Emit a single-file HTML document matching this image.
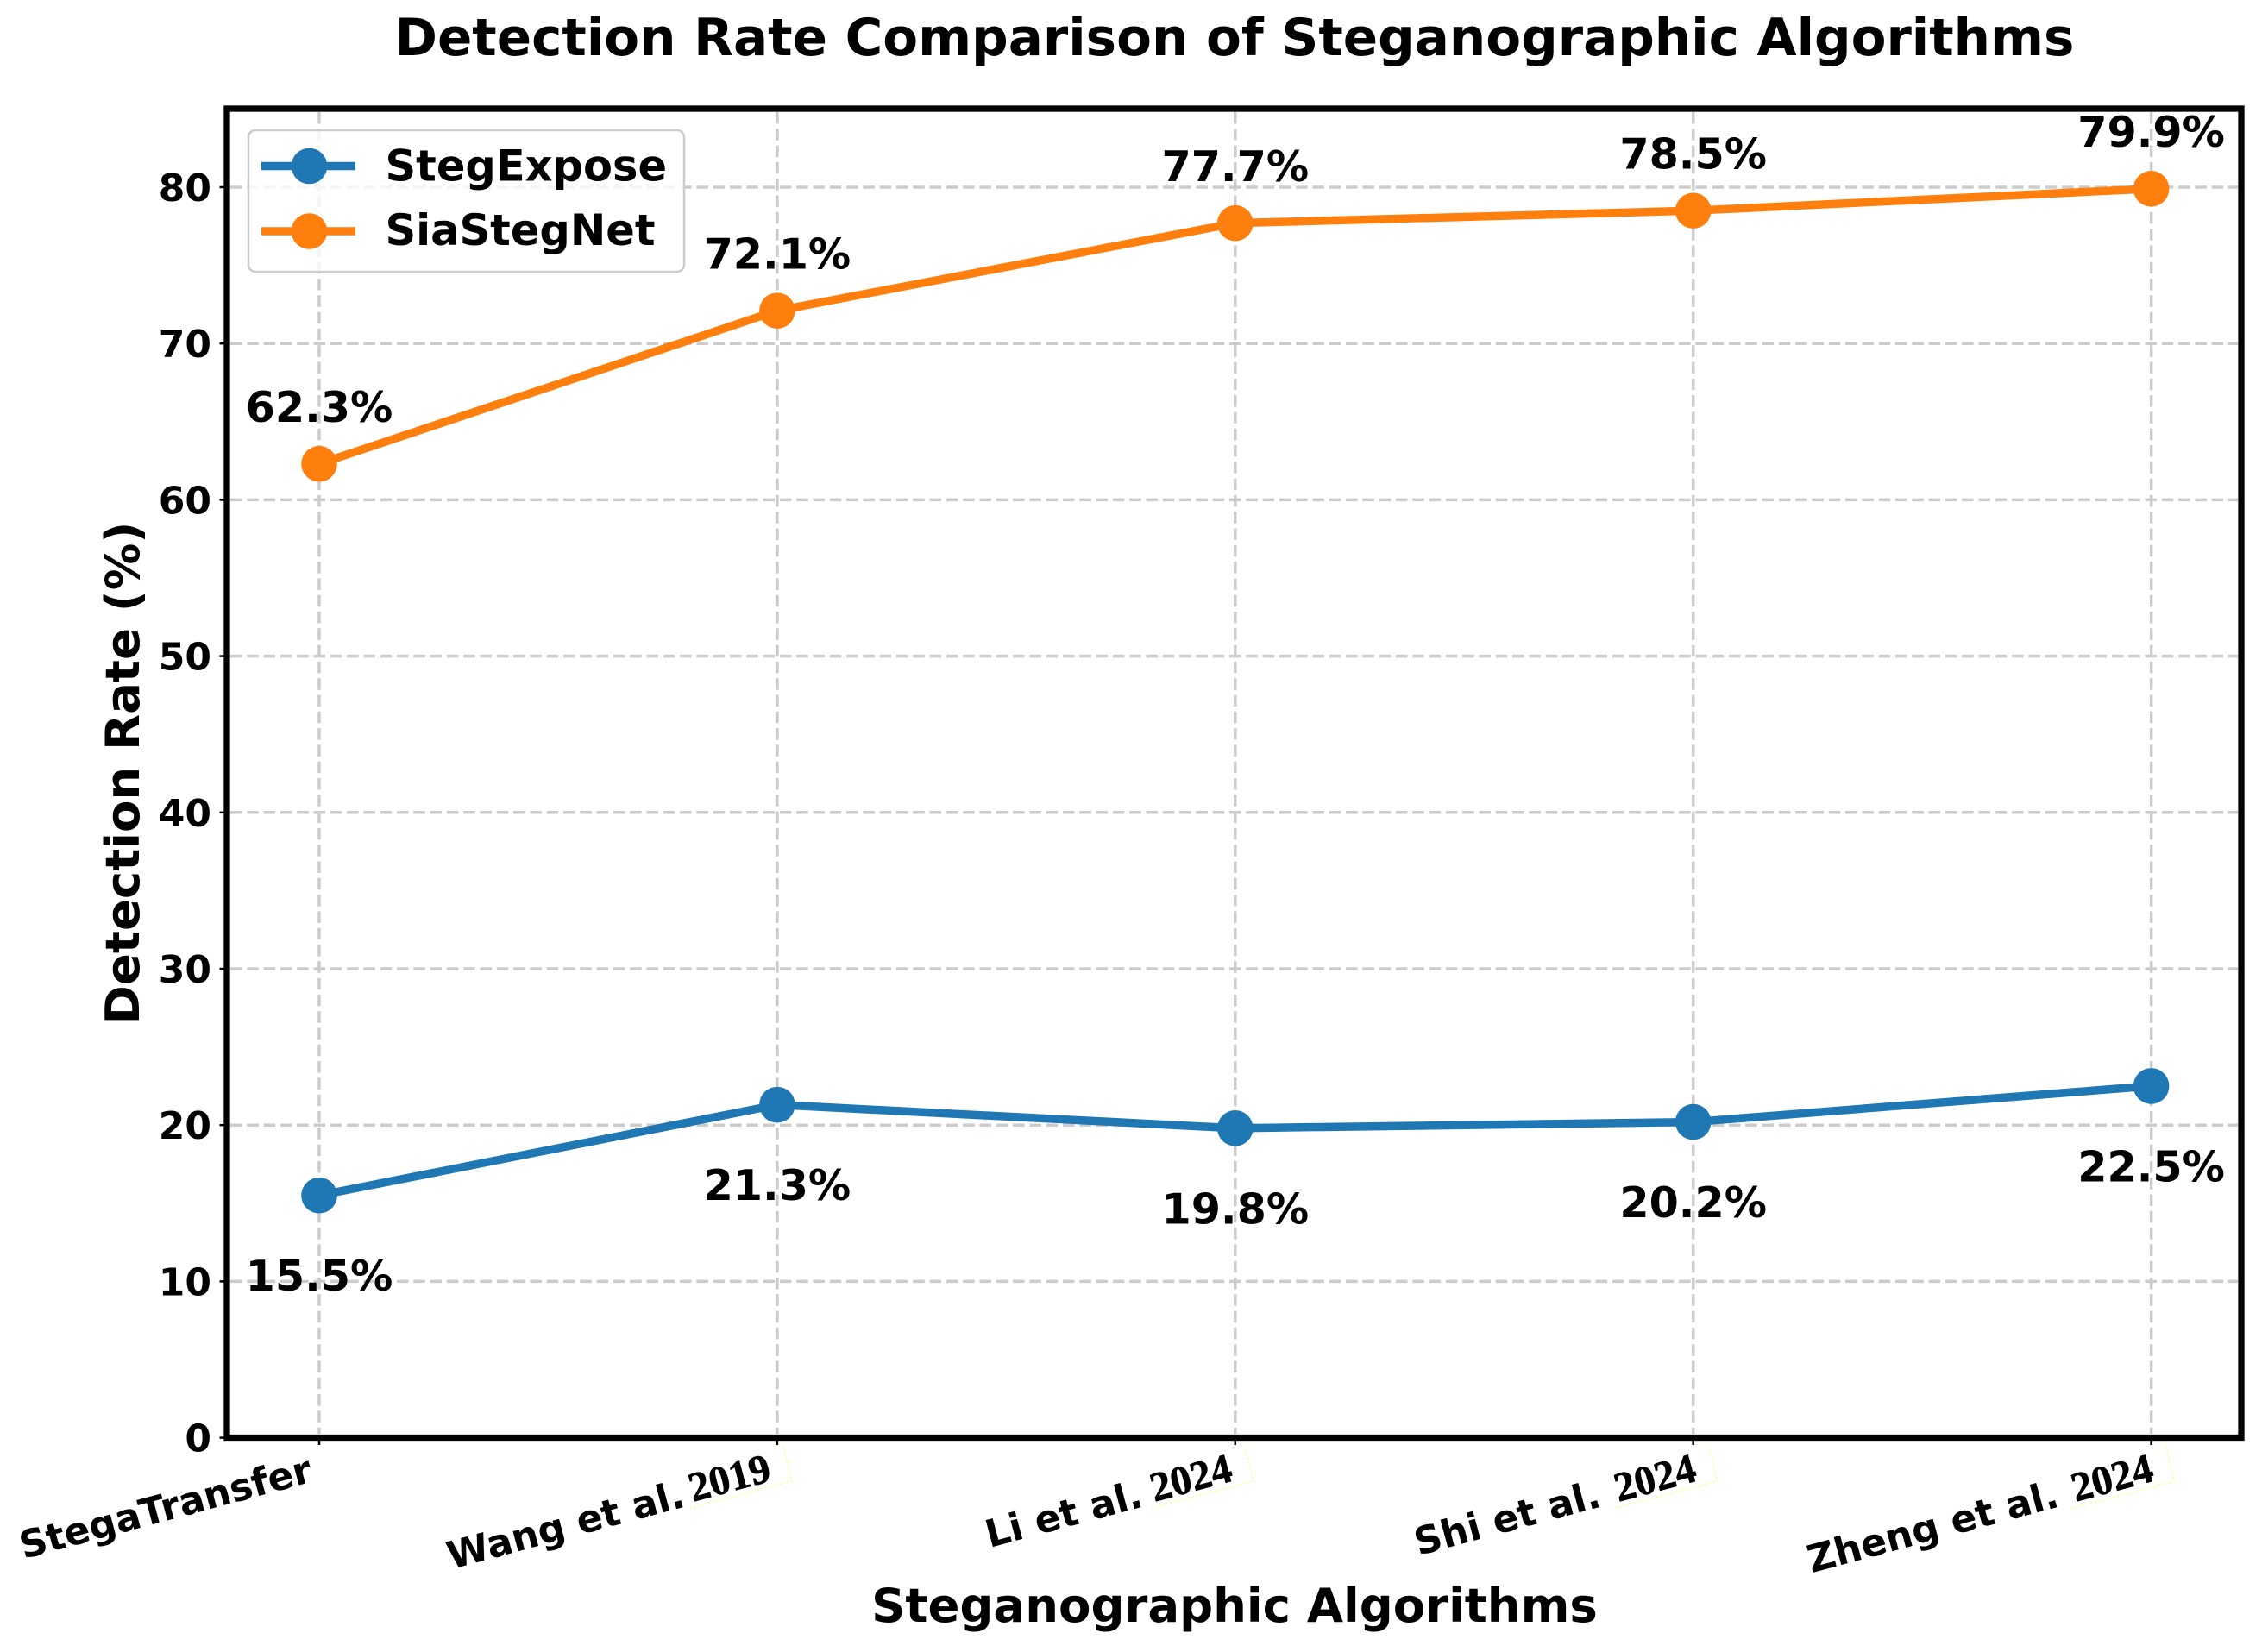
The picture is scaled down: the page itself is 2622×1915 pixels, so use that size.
<!DOCTYPE html>
<html lang="en">
<head>
<meta charset="utf-8">
<title>Detection Rate Comparison of Steganographic Algorithms</title>
<style>
  html, body { margin: 0; padding: 0; background: #fff; }
  svg { display: block; }
  text { font-family: "DejaVu Sans", "Liberation Sans", sans-serif; font-weight: 700; fill: #000; }
  .year { font-family: "Liberation Serif", serif; font-size: 48px; stroke: #000; stroke-width: 0.7px; }
</style>
</head>
<body>
<svg id="chart" xmlns="http://www.w3.org/2000/svg" width="2622" height="1915" viewBox="0 0 2622 1915">
  <rect x="0" y="0" width="2622" height="1915" fill="#fff"/>
  <g id="grid"></g>
  <g id="series"></g>
  <g id="annotations"></g>
  <rect x="263" y="126" width="2335" height="1540.5" fill="none" stroke="#000" stroke-width="7.3"/>
  <g id="ticks"></g>
  <text x="1431" y="64" text-anchor="middle" font-size="59.5">Detection Rate Comparison of Steganographic Algorithms</text>
  <text x="1431" y="1880" text-anchor="middle" font-size="54.5">Steganographic Algorithms</text>
  <text transform="translate(161,896) rotate(-90)" text-anchor="middle" font-size="54.5">Detection Rate (%)</text>
  <g>
    <rect x="288" y="151" width="505" height="164" rx="8" ry="8" fill="#fff" fill-opacity="0.8" stroke="#ccc" stroke-width="2.5"/>
    <line x1="303" y1="192.5" x2="412" y2="192.5" stroke="#1f77b4" stroke-width="9.5"/>
    <circle cx="358.5" cy="192.5" r="20.8" fill="#1f77b4"/>
    <text x="446.5" y="209.5" font-size="49.5">StegExpose</text>
    <line x1="303" y1="268" x2="412" y2="268" stroke="#ff7f0e" stroke-width="9.5"/>
    <circle cx="358.5" cy="268" r="20.8" fill="#ff7f0e"/>
    <text x="446.5" y="284" font-size="49.5">SiaStegNet</text>
  </g>
</svg>
<script>
const categories = ['StegaTransfer', 'Wang et al.', 'Li et al.', 'Shi et al.', 'Zheng et al.'];
const categoryYears = ['', '2019', '2024', '2024', '2024'];
const stegExposeValues = [15.5, 21.3, 19.8, 20.2, 22.5];
const siaStegNetValues = [62.3, 72.1, 77.7, 78.5, 79.9];
const yTickValues = [0, 10, 20, 30, 40, 50, 60, 70, 80];

const NS = 'http://www.w3.org/2000/svg';
const xAxis = i => 370 + i * 530.9;
const yAxis = v => 1666.6 - v * 18.12;
const yearNudge = i => (i === 1 ? -5 : i === 2 ? -1 : i === 3 ? 6 : 5);
const make = (tag, parent) => {
  const el = document.createElementNS(NS, tag);
  parent.appendChild(el);
  return el;
};
const setAll = (el, attrs) => {
  for (const k in attrs) el.setAttribute(k, attrs[k]);
};
const gridLayer = document.getElementById('grid');
const tickLayer = document.getElementById('ticks');
const seriesLayer = document.getElementById('series');
const annotationLayer = document.getElementById('annotations');

yTickValues.forEach(v => {
  const g = make('line', gridLayer);
  
  
  setAll(g, {x1: 267, x2: 2594, y1: yAxis(v), y2: yAxis(v), stroke: '#ccc', 'stroke-width': 3.5, 'stroke-dasharray': '13.5 5.8'});
  const t = make('line', tickLayer);
  
  
  setAll(t, {x1: 254.5, x2: 261, y1: yAxis(v), y2: yAxis(v), stroke: '#000', 'stroke-width': 2.5});
  const l = make('text', tickLayer);
  
  
  setAll(l, {x: 245, y: yAxis(v) + 16, 'text-anchor': 'end', 'font-size': 44});
  l.textContent = String(v);
});

categories.forEach((c, i) => {
  const g = make('line', gridLayer);
  
  
  setAll(g, {x1: xAxis(i), x2: xAxis(i), y1: 130, y2: 1662, stroke: '#ccc', 'stroke-width': 3.5, 'stroke-dasharray': '13.5 5.8'});
  const t = make('line', tickLayer);
  
  
  setAll(t, {x1: xAxis(i), x2: xAxis(i), y1: 1669, y2: 1675, stroke: '#000', 'stroke-width': 2.5});
  const l = make('text', tickLayer);
  
  
  const hasYear = categoryYears[i] !== '';
  const lx = hasYear ? xAxis(i) - 105 : xAxis(i) - 6;
  const ly = hasYear ? 1746 : 1717;
  setAll(l, {transform: 'translate(' + lx + ',' + ly + ') rotate(-15)', 'text-anchor': 'end', 'font-size': 44});
  l.textContent = c;
  if (hasYear) {
    const yx = xAxis(i) + yearNudge(i);
    const y = make('text', tickLayer);
    
    
    y.setAttribute('class', 'year');
    setAll(y, {transform: 'translate(' + yx + ',1716) rotate(-15)', 'text-anchor': 'end'});
    y.textContent = categoryYears[i];
    const edge = make('polyline', tickLayer);
    
    
    setAll(edge, {points: (yx + 12) + ',1677 ' + (yx + 22) + ',1717 ' + (yx - 96) + ',1748', fill: 'none', stroke: '#ff0', 'stroke-width': 1.2, 'stroke-dasharray': '1.5 3', opacity: 0.7});
  }
});

function drawSeries(values, color, name, labelOffset) {
  const line = make('polyline', seriesLayer);
  
  
  setAll(line, {points: values.map((v, i) => xAxis(i) + ',' + yAxis(v)).join(' '), fill: 'none', stroke: color, 'stroke-width': 9.5, 'stroke-linejoin': 'round'});
  values.forEach((v, i) => {
    const p = make('circle', seriesLayer);
    
    
    setAll(p, {cx: xAxis(i), cy: yAxis(v), r: 20.8, fill: color});
    const a = make('text', annotationLayer);
    
    
    setAll(a, {x: xAxis(i), y: yAxis(v) + labelOffset, 'text-anchor': 'middle', 'font-size': 49.2});
    a.textContent = v.toFixed(1) + '%';
  });
}
drawSeries(stegExposeValues, '#1f77b4', 'stegexpose', 110.5);
drawSeries(siaStegNetValues, '#ff7f0e', 'siastegnet', -48.7);
</script>
</body>
</html>
